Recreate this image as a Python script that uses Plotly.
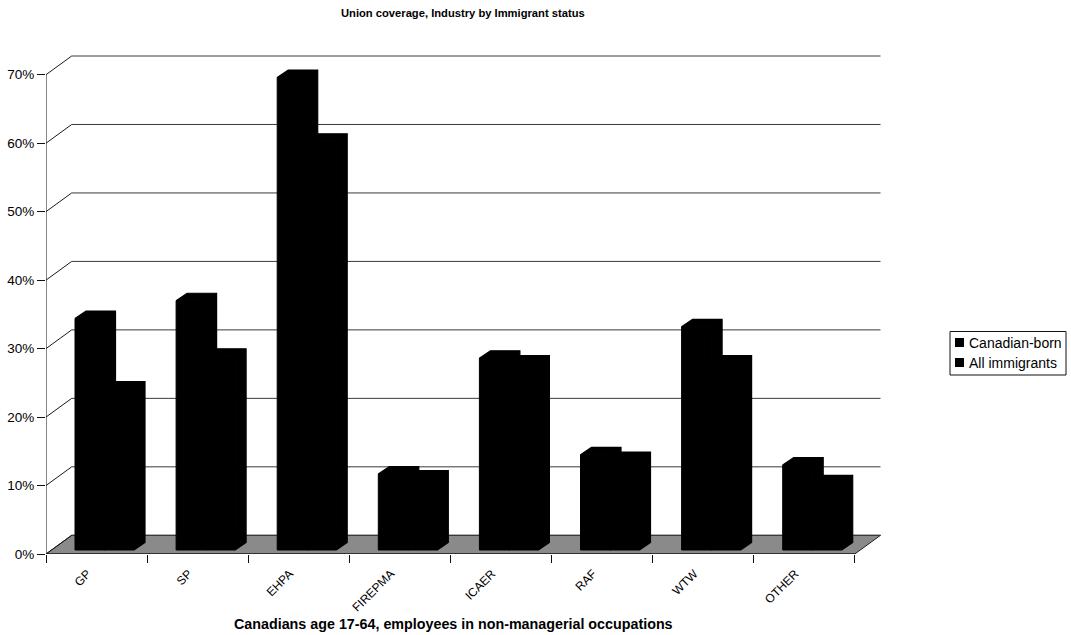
import plotly.graph_objects as go

# ---- data -------------------------------------------------------------
categories = ["GP", "SP", "EHPA", "FIREPMA", "ICAER", "RAF", "WTW", "OTHER"]
canadian_born = [33.8, 36.4, 69.0, 11.1, 28.0, 13.9, 32.6, 12.4]
all_immigrants = [23.5, 28.3, 59.7, 10.5, 27.3, 13.2, 27.3, 9.8]
series_names = ["Canadian-born", "All immigrants"]
y_ticks = [0, 10, 20, 30, 40, 50, 60, 70]

# ---- geometry (pixels) -------------------------------------------------
W, H = 1071, 635
PLOT_L, PLOT_R = 46, 882
PLOT_T, PLOT_B = 54, 554
PX_PER_CAT = 101.1
PX_PER_PCT = 6.847
X_MAX = (PLOT_R - PLOT_L) / PX_PER_CAT
Y_MAX = (PLOT_B - PLOT_T) / PX_PER_PCT

# depth of the 3-D box (back wall offset), in data units
WALL_DX = 25.7 / PX_PER_CAT
WALL_DY = 18.7 / PX_PER_PCT
# column geometry, in data units
BAR_OFF = 29.0 / PX_PER_CAT
BAR_W = 29.5 / PX_PER_CAT
BAR_DX = 11.0 / PX_PER_CAT
BAR_DY = 7.5 / PX_PER_PCT
BAR_BASE = 4.0 / PX_PER_PCT
# rotated category labels sit a little left of the category centre
LABEL_SHIFT = 9.0 / PX_PER_CAT

N = len(categories)
FONT = "Liberation Sans, Arial, Helvetica, sans-serif"


def px_x(px):
    return (px - PLOT_L) / (PLOT_R - PLOT_L)


def px_y(py):
    return (PLOT_B - py) / (PLOT_B - PLOT_T)


fig = go.Figure()
shapes = []

# floor of the 3-D box
shapes.append(dict(
    type="path", xref="x", yref="y", layer="below",
    path=f"M 0 0 L {N} 0 L {N + WALL_DX} {WALL_DY} L {WALL_DX} {WALL_DY} Z",
    fillcolor="#8a8a8a", line=dict(color="#202020", width=1),
))

# back-wall gridlines and their diagonals on the side wall
for v in y_ticks:
    shapes.append(dict(type="line", xref="x", yref="y", layer="below",
                       x0=WALL_DX, y0=v + WALL_DY, x1=N + WALL_DX, y1=v + WALL_DY,
                       line=dict(color="#3a3a3a", width=1)))
    shapes.append(dict(type="line", xref="x", yref="y", layer="below",
                       x0=0, y0=v, x1=WALL_DX, y1=v + WALL_DY,
                       line=dict(color="#1a1a1a", width=1)))

# front axis lines
shapes.append(dict(type="line", xref="x", yref="y", layer="below",
                   x0=0, y0=0, x1=0, y1=max(y_ticks),
                   line=dict(color="#111", width=1)))
shapes.append(dict(type="line", xref="x", yref="y", layer="below",
                   x0=0, y0=0, x1=N, y1=0,
                   line=dict(color="#111", width=1)))

# front faces of the columns
for k, (name, vals) in enumerate(zip(series_names, [canadian_born, all_immigrants])):
    xs = [i + BAR_OFF + k * BAR_W + BAR_W / 2 for i in range(N)]
    fig.add_trace(go.Bar(
        x=xs, y=vals, base=BAR_BASE, width=BAR_W, name=name,
        marker=dict(color="#000000", line=dict(width=1, color="#000000")),
        hoverinfo="skip", showlegend=False,
    ))

# top and side faces of the columns
for k, vals in enumerate([canadian_born, all_immigrants]):
    px, py = [], []
    for i, v in enumerate(vals):
        x0 = i + BAR_OFF + k * BAR_W
        x1 = x0 + BAR_W
        top = BAR_BASE + v
        px += [x0, x0 + BAR_DX, x1 + BAR_DX, x1 + BAR_DX, x1, x1, x0, None]
        py += [top, top + BAR_DY, top + BAR_DY, BAR_BASE + BAR_DY, BAR_BASE, top, top, None]
    fig.add_trace(go.Scatter(
        x=px, y=py, mode="lines", fill="toself", fillcolor="#000000",
        line=dict(width=1.2, color="#000000"), hoverinfo="skip", showlegend=False,
    ))

# legend box
LEG_L, LEG_T, LEG_R, LEG_B = 950, 331.5, 1066, 375
shapes.append(dict(type="rect", xref="paper", yref="paper",
                   x0=px_x(LEG_L), x1=px_x(LEG_R), y0=px_y(LEG_B), y1=px_y(LEG_T),
                   line=dict(color="#111", width=1), fillcolor="white"))
annotations = []
for k, name in enumerate(series_names):
    cy = 342.5 + 20 * k
    shapes.append(dict(type="rect", xref="paper", yref="paper",
                       x0=px_x(955), x1=px_x(964), y0=px_y(cy + 4.5), y1=px_y(cy - 4.5),
                       line=dict(width=0), fillcolor="#000000"))
    annotations.append(dict(text=name, xref="paper", yref="paper",
                            x=px_x(967), y=px_y(cy), xanchor="left", yanchor="middle",
                            showarrow=False, font=dict(family=FONT, size=14, color="#000")))

# titles
annotations.append(dict(text="<b>Union coverage, Industry by Immigrant status</b>",
                        xref="paper", yref="paper", x=px_x(463), y=px_y(13),
                        xanchor="center", yanchor="middle", showarrow=False,
                        font=dict(family=FONT, size=11.2, color="#000")))
annotations.append(dict(text="<b>Canadians age 17-64, employees in non-managerial occupations</b>",
                        xref="paper", yref="paper", x=px_x(453), y=px_y(624),
                        xanchor="center", yanchor="middle", showarrow=False,
                        font=dict(family=FONT, size=14.3, color="#000")))

fig.update_layout(
    width=W, height=H,
    margin=dict(l=PLOT_L, r=W - PLOT_R, t=PLOT_T, b=H - PLOT_B, pad=0, autoexpand=False),
    paper_bgcolor="white", plot_bgcolor="white",
    barmode="overlay", showlegend=False,
    shapes=shapes, annotations=annotations,
    font=dict(family=FONT, color="#000"),
    xaxis=dict(
        range=[0, X_MAX], showgrid=False, zeroline=False, showline=False, automargin=False,
        tickmode="array", tickvals=[i + 0.5 - LABEL_SHIFT for i in range(N)], ticktext=categories,
        tickangle=-45, ticks="outside", ticklen=7, tickcolor="rgba(0,0,0,0)",
        tickfont=dict(family=FONT, size=12, color="#000"),
        minor=dict(tickmode="array", tickvals=list(range(N + 1)), ticks="outside",
                   ticklen=8, tickcolor="#111", tickwidth=1, showgrid=False),
        fixedrange=True,
    ),
    yaxis=dict(
        range=[0, Y_MAX], showgrid=False, zeroline=False, showline=False, automargin=False,
        tickmode="array", tickvals=y_ticks, ticktext=[f"{v}%" for v in y_ticks],
        ticks="outside", ticklen=8, tickcolor="#111", tickwidth=1,
        tickfont=dict(family=FONT, size=13.5, color="#000"),
        fixedrange=True,
    ),
)

fig.write_html("out.html")
